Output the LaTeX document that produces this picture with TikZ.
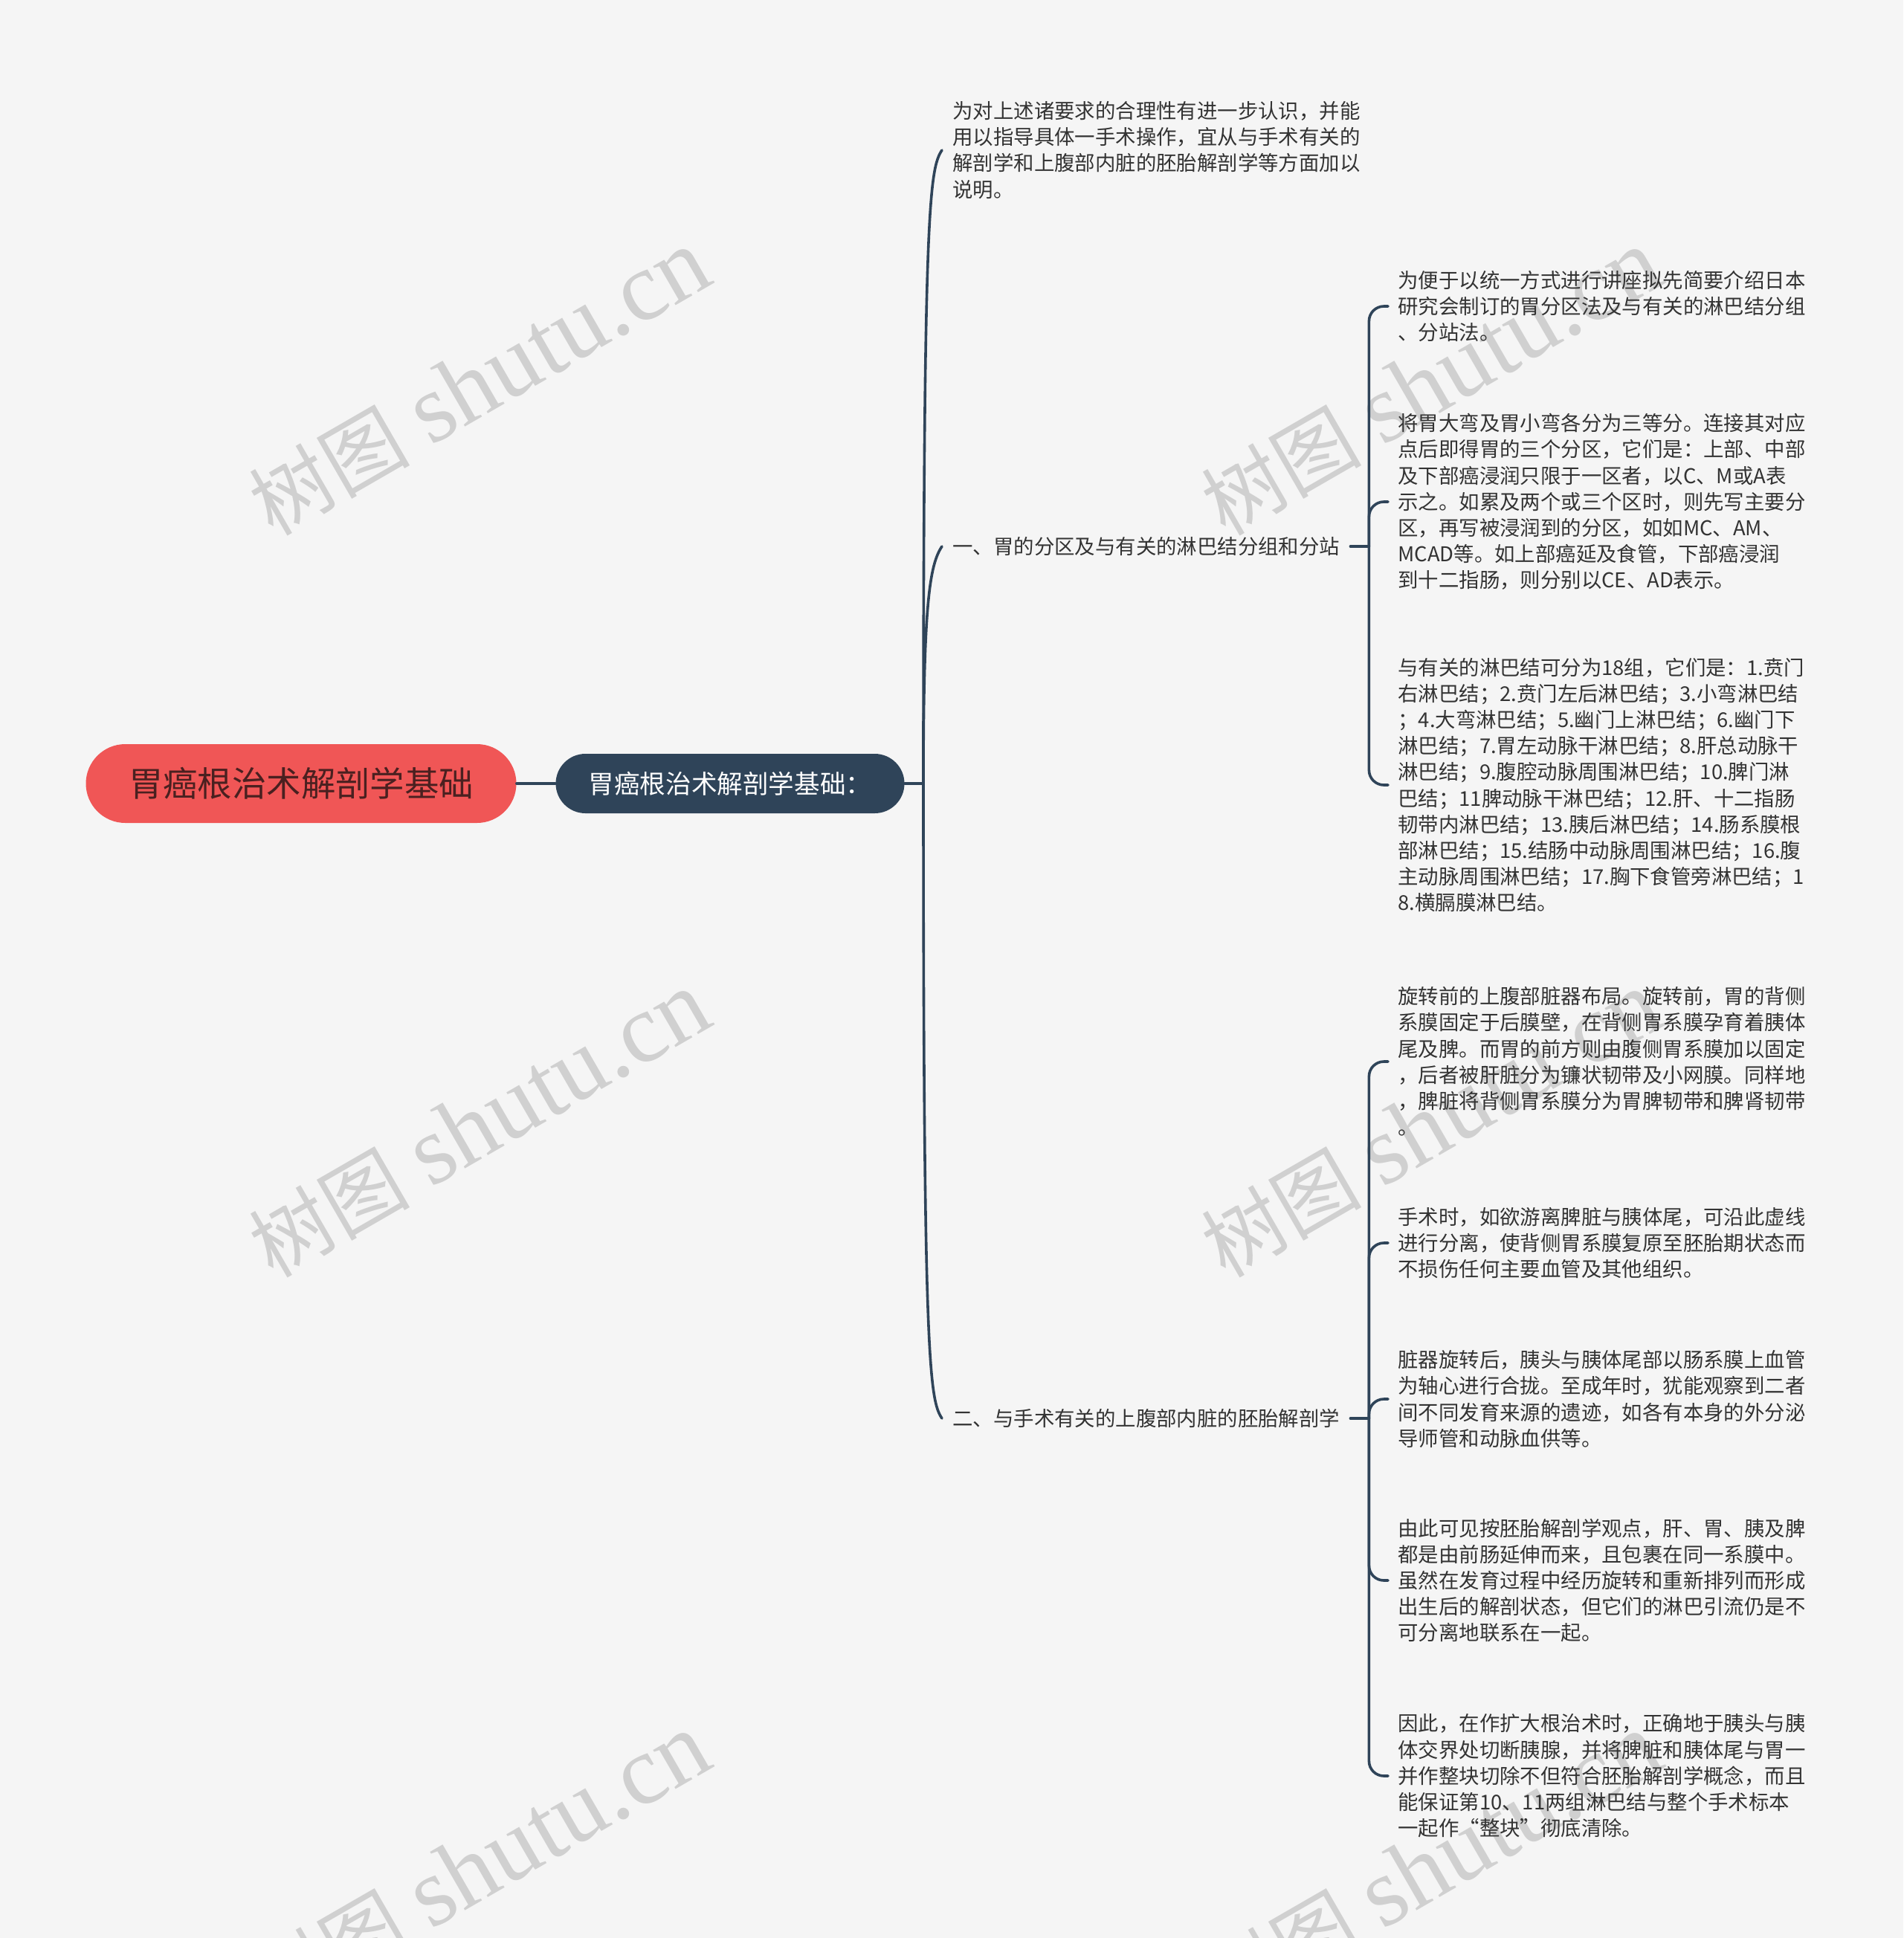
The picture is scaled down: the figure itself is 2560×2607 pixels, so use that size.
\documentclass[tikz,border=0pt]{standalone}
\usepackage{fontspec}
\setmainfont{Noto Sans CJK SC}
\newfontfamily\wmfont{Liberation Serif}
\usetikzlibrary{calc}
\definecolor{bgc}{HTML}{F5F5F5}
\definecolor{rootc}{HTML}{F05656}
\definecolor{roottxt}{HTML}{4A2020}
\definecolor{darkc}{HTML}{2F4459}
\definecolor{txtc}{HTML}{333333}
\definecolor{wmc}{HTML}{D0D0D0}
\begin{document}
\begin{tikzpicture}[x=0.5pt,y=-0.5pt,line join=round,line cap=round]
	\tikzset{rootbox/.style={fill=rootc,rounded corners=26.5pt,minimum width=289.5pt,minimum height=53pt,inner sep=0pt,text=roottxt,font=\fontsize{23.2}{28}\selectfont},
		mainbox/.style={fill=darkc,rounded corners=20pt,minimum width=234.5pt,minimum height=40pt,inner sep=0pt,text=white,font=\fontsize{17.3}{21}\selectfont},
		topic/.style={anchor=west,align=left,inner xsep=7pt,inner ysep=0pt,text=txtc,font=\fontsize{13.7}{17.6}\selectfont},
		leaf/.style={anchor=west,align=left,inner xsep=6.5pt,inner ysep=0pt,text=txtc,font=\fontsize{13.7}{17.6}\selectfont},
		link/.style={draw=darkc,line width=1.8pt},
		brace/.style={draw=darkc,line width=1.8pt,rounded corners=10pt}}
	\fill[bgc] (0,0) rectangle (2560,2607);
	\useasboundingbox (0,0) rectangle (2560,2607);
	% watermark
	\foreach \wx in {645,1925}
	\foreach \wy in {515,1513,2511}
	\node[text=wmc,rotate=30,inner sep=0pt] at (\wx,\wy) {{\fontsize{54}{54}\selectfont 树图}\hspace{14pt}{\wmfont\fontsize{66}{66}\selectfont shutu.cn}};
	\node[rootbox] (root) at (405,1054) {胃癌根治术解剖学基础};
	\node[mainbox] (main) at (982,1054) {胃癌根治术解剖学基础：};
	\coordinate (sp) at (1242,1054);
	\node[topic] (t0) at (1267,202) {为对上述诸要求的合理性有进一步认识，并能\\用以指导具体一手术操作，宜从与手术有关的\\解剖学和上腹部内脏的胚胎解剖学等方面加以\\说明。};
	\node[topic] (t1) at (1267,735) {一、胃的分区及与有关的淋巴结分组和分站};
	\node[topic] (t2) at (1267,1908) {二、与手术有关的上腹部内脏的胚胎解剖学};
	\coordinate (b1) at ($(t1.east)+(25,0)$);
	\coordinate (b2) at ($(t2.east)+(25,0)$);
	\node[leaf] (l1) at (1867,412) {为便于以统一方式进行讲座拟先简要介绍日本\\研究会制订的胃分区法及与有关的淋巴结分组\\、分站法。};
	\node[leaf] (l2) at (1867,675) {将胃大弯及胃小弯各分为三等分。连接其对应\\点后即得胃的三个分区，它们是：上部、中部\\及下部癌浸润只限于一区者，以C、M或A表\\示之。如累及两个或三个区时，则先写主要分\\区，再写被浸润到的分区，如如MC、AM、\\MCAD等。如上部癌延及食管，下部癌浸润\\到十二指肠，则分别以CE、AD表示。};
	\node[leaf] (l3) at (1867,1056) {与有关的淋巴结可分为18组，它们是：1.贲门\\右淋巴结；2.贲门左后淋巴结；3.小弯淋巴结\\；4.大弯淋巴结；5.幽门上淋巴结；6.幽门下\\淋巴结；7.胃左动脉干淋巴结；8.肝总动脉干\\淋巴结；9.腹腔动脉周围淋巴结；10.脾门淋\\巴结；11脾动脉干淋巴结；12.肝、十二指肠\\韧带内淋巴结；13.胰后淋巴结；14.肠系膜根\\部淋巴结；15.结肠中动脉周围淋巴结；16.腹\\主动脉周围淋巴结；17.胸下食管旁淋巴结；1\\8.横膈膜淋巴结。};
	\node[leaf] (l4) at (1867,1428) {旋转前的上腹部脏器布局。旋转前，胃的背侧\\系膜固定于后膜壁，在背侧胃系膜孕育着胰体\\尾及脾。而胃的前方则由腹侧胃系膜加以固定\\，后者被肝脏分为镰状韧带及小网膜。同样地\\，脾脏将背侧胃系膜分为胃脾韧带和脾肾韧带\\。};
	\node[leaf] (l5) at (1867,1672) {手术时，如欲游离脾脏与胰体尾，可沿此虚线\\进行分离，使背侧胃系膜复原至胚胎期状态而\\不损伤任何主要血管及其他组织。};
	\node[leaf] (l6) at (1867,1882) {脏器旋转后，胰头与胰体尾部以肠系膜上血管\\为轴心进行合拢。至成年时，犹能观察到二者\\间不同发育来源的遗迹，如各有本身的外分泌\\导师管和动脉血供等。};
	\node[leaf] (l7) at (1867,2126) {由此可见按胚胎解剖学观点，肝、胃、胰及脾\\都是由前肠延伸而来，且包裹在同一系膜中。\\虽然在发育过程中经历旋转和重新排列而形成\\出生后的解剖状态，但它们的淋巴引流仍是不\\可分离地联系在一起。};
	\node[leaf] (l8) at (1867,2389) {因此，在作扩大根治术时，正确地于胰头与胰\\体交界处切断胰腺，并将脾脏和胰体尾与胃一\\并作整块切除不但符合胚胎解剖学概念，而且\\能保证第10、11两组淋巴结与整个手术标本\\一起作“整块”彻底清除。};
	\draw[link] (root.east) -- (main.west);
	\draw[link] (main.east) -- (sp);
	\foreach \t/\s in {t0/1,t1/1,t2/-1}
	\draw[link] (sp) .. controls ($(sp |- \t.west)+(0,80*\s)$) and ($(sp |- \t.west)+(8,25*\s)$) .. (\t.west);
	\draw[link] (t1.east) -- (b1);
	\draw[link] (t2.east) -- (b2);
	\foreach \l in {l1,l2,l3}
	\draw[brace] (b1) |- (\l.west);
	\foreach \l in {l4,l5,l6,l7,l8}
	\draw[brace] (b2) |- (\l.west);
\end{tikzpicture}
\end{document}
